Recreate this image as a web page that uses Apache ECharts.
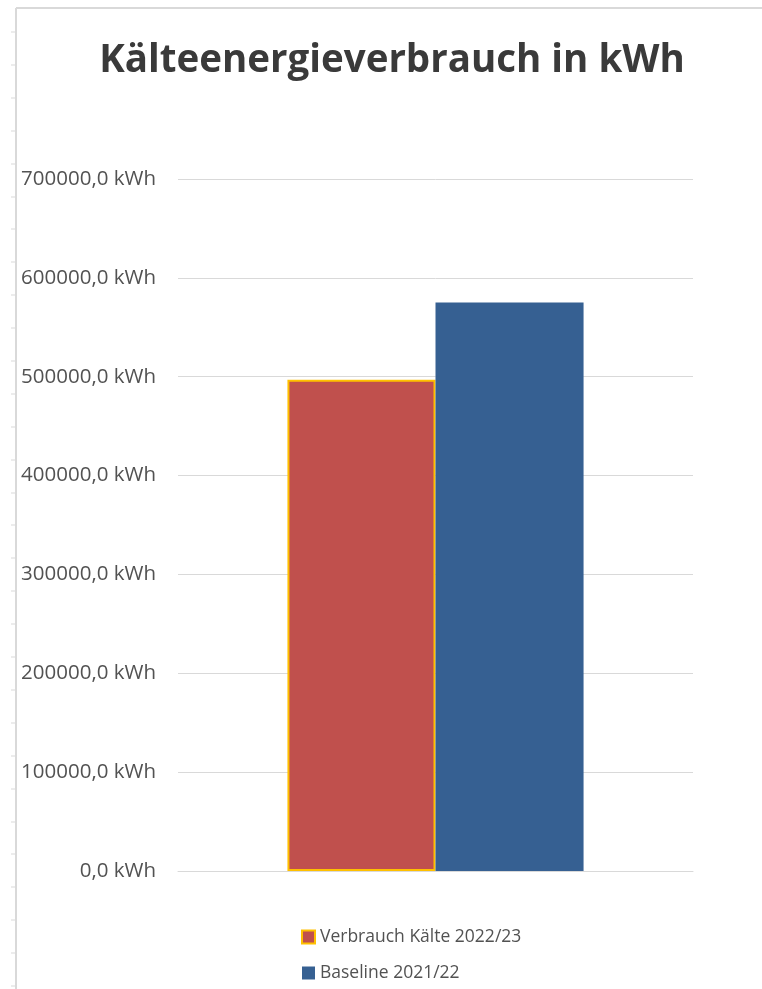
<!DOCTYPE html>
<html>
<head>
<meta charset="utf-8">
<script src="https://cdn.jsdelivr.net/npm/echarts@6/dist/echarts.min.js"></script>
<style>
  html, body { margin: 0; padding: 0; background: #ffffff; }
  #chart { width: 762px; height: 989px; }
</style>
</head>
<body>
<div id="chart"></div>
<script>
// Kälteenergieverbrauch – Vergleich Verbrauch 2022/23 gegen Baseline 2021/22
const categories = [''];
const seriesNames = ['Verbrauch Kälte 2022/23', 'Baseline 2021/22'];
const verbrauchKaelte2223 = [497000];
const baseline2122 = [575000];
const yTicks = [0, 100000, 200000, 300000, 400000, 500000, 600000, 700000];

const fontFamily = '"Open Sans", "Noto Sans", sans-serif';
const textGray = '#525252';
const lineGray = '#d9d9d9';

function formatKwh(v) {
  return v.toFixed(1).replace('.', ',') + ' kWh';
}

// thin sheet frame with row markers along the left edge
const frame = [
  { type: 'line', shape: { x1: 16, y1: 8, x2: 762, y2: 8 }, style: { stroke: lineGray, lineWidth: 2 } },
  { type: 'line', shape: { x1: 16, y1: 8, x2: 16, y2: 989 }, style: { stroke: lineGray, lineWidth: 2 } }
];
for (let y = 32; y < 989; y += 32.9) {
  frame.push({ type: 'line', shape: { x1: 11, y1: Math.round(y), x2: 16, y2: Math.round(y) }, style: { stroke: lineGray, lineWidth: 1 } });
}

const chart = echarts.init(document.getElementById('chart'), null, { renderer: 'canvas' });
chart.setOption({
  backgroundColor: '#ffffff',
  animation: false,
  title: {
    text: 'Kälteenergieverbrauch in kWh',
    left: 387,
    textAlign: 'center',
    top: 37,
    textStyle: { fontFamily, fontSize: 38.5, fontWeight: 'bold', color: '#3a3a3a' }
  },
  graphic: frame,
  legend: {
    orient: 'vertical',
    left: 301,
    top: 928,
    height: 60,
    padding: 0,
    itemGap: 18,
    itemWidth: 13,
    itemHeight: 13,
    icon: 'rect',
    data: seriesNames,
    textStyle: { fontFamily, fontSize: 17.5, lineHeight: 18, color: textGray }
  },
  grid: { left: 178, right: 69, top: 179, bottom: 118, containLabel: false },
  xAxis: {
    type: 'category',
    data: categories,
    axisLine: { show: true, lineStyle: { color: lineGray } },
    axisTick: { show: false },
    axisLabel: { show: false }
  },
  yAxis: {
    type: 'value',
    min: yTicks[0],
    max: yTicks[yTicks.length - 1],
    interval: yTicks[1] - yTicks[0],
    axisLine: { show: false },
    axisTick: { show: false },
    splitLine: { lineStyle: { color: lineGray, width: 1 } },
    axisLabel: {
      formatter: formatKwh,
      margin: 22,
      fontFamily,
      fontSize: 20.5,
      color: textGray
    }
  },
  series: [
    {
      name: seriesNames[0],
      type: 'bar',
      data: verbrauchKaelte2223,
      barGap: '0%',
      barCategoryGap: '42.5%',
      itemStyle: { color: '#c0504d', borderColor: '#ffc000', borderWidth: 2 }
    },
    {
      name: seriesNames[1],
      type: 'bar',
      data: baseline2122,
      barGap: '0%',
      barCategoryGap: '42.5%',
      itemStyle: { color: '#366092' }
    }
  ]
});
</script>
</body>
</html>
